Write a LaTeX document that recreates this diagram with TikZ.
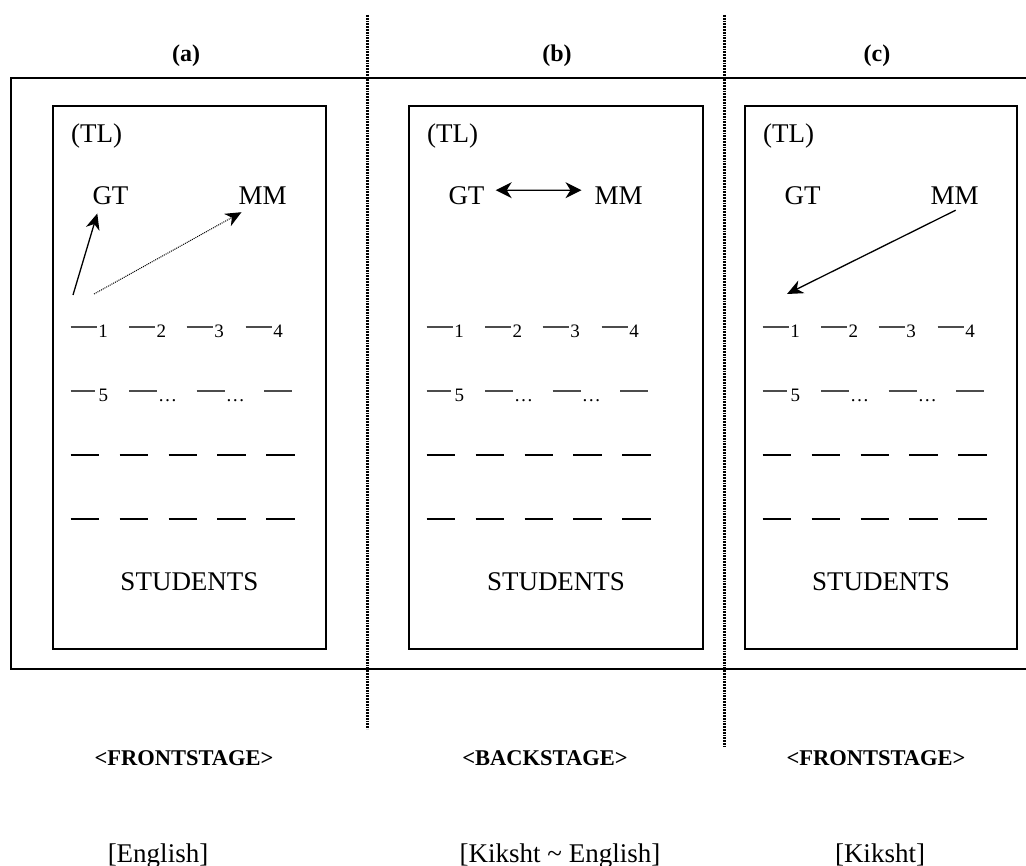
\documentclass[tikz,border=0pt]{standalone}
\usepackage{fontspec}
\setmainfont{Liberation Serif}
\usetikzlibrary{arrows.meta,calc}
\newcommand\panel[3]{% #1 name, #2 left, #3 right
  \draw[box] (#2,106) rectangle (#3,649);
  \begin{scope}[shift={(#2,0)}]
    \node[txt,anchor=base west] (#1-TL) at (18,143) {(TL)};
    \node[txt,anchor=base west] (#1-GT) at (39.3,205) {GT};
    \node[txt,anchor=base west] (#1-MM) at (185.5,205) {MM};
    \foreach \s/\d in {17.7/1,76/2,133.7/3,192.7/4}{
      \draw[seat] (\s,327) -- ++(26,0);
      \node[num] (#1-n\d) at (\s+27.5,337.5) {\d};}
    \draw[seat] (17.7,391) -- ++(24.3,0);
    \node[num] (#1-n5) at (45.5,402) {5};
    \foreach \s/\k in {76/x,143.7/y}{
      \draw[seat] (\s,391) -- ++(28.3,0);
      \node[num] (#1-d\k) at (\s+29,402) {…};}
    \draw[seat] (211,391) -- ++(28.3,0);
    \foreach \k in {0,...,4}{
      \draw[seatk] (17.7+48.9*\k,455) -- ++(28.7,0);
      \draw[seatk] (17.7+48.9*\k,519) -- ++(28.7,0);}
  \end{scope}
  \node[txt,anchor=base] (#1-ST) at ({(#2+#3)/2},590) {STUDENTS};
}
\begin{document}
\begin{tikzpicture}[x=1pt,y=-1pt,
  txt/.style={inner sep=0pt,font=\fontsize{27}{30}\selectfont},
  lab/.style={inner sep=0pt,font=\bfseries\fontsize{22.5}{26}\selectfont},
  num/.style={inner sep=0pt,anchor=base west,font=\fontsize{19}{21}\selectfont},
  seat/.style={line width=1.2pt,black!70},
  seatk/.style={line width=1.1pt,black},
  box/.style={draw,line width=1.8pt},
  sep/.style={line width=3pt,dash pattern=on 1.8pt off 1pt},
  arr/.style={line width=1.3pt,-{Stealth[length=16pt,width=14pt,inset=5pt]}},
  arrb/.style={line width=1.3pt,{Stealth[length=16pt,width=16pt,inset=5pt]}-{Stealth[length=16pt,width=16pt,inset=5pt]}},
]
\useasboundingbox (0,0) rectangle (1026,866);
% outer frame
\draw[line width=2.2pt] (1040,78) -- (11,78) -- (11,669) -- (1040,669);
% panels
\panel{a}{53}{326}
\panel{b}{409}{703}
\panel{c}{745}{1017}
% separators
\coordinate (s1t) at (367.5,15); \coordinate (s1b) at (367.5,729);
\coordinate (s2t) at (724,15); \coordinate (s2b) at (724,747);
\draw[sep] (s1t) -- (s1b);
\draw[sep] (s2t) -- (s2b);
% titles
\node[lab,anchor=base,font=\bfseries\fontsize{24}{28}\selectfont] (ta) at (186,62) {(a)};
\node[lab,anchor=base,font=\bfseries\fontsize{24}{28}\selectfont] (tb) at (557,62) {(b)};
\node[lab,anchor=base,font=\bfseries\fontsize{24}{28}\selectfont] (tc) at (877,62) {(c)};
% arrows
\coordinate (a-s1) at (73,295);
\coordinate (a-s2) at (94,294);
\draw[arr] (a-s1) -- ([shift={(5,8)}]a-GT.south west);
\draw[arr,line width=1pt,densely dotted] (a-s2) -- ([shift={(3,7)}]a-MM.south west);
\draw[arrb] ([shift={(11,-6)}]b-GT.east) -- ([shift={(-13,-6)}]b-MM.west);
\coordinate (c-e) at (787,294);
\draw[arr] ([shift={(1,5)}]c-MM.south) -- (c-e);
% stage labels
\node[lab,anchor=base] (fa) at (184,765) {<FRONTSTAGE>};
\node[lab,anchor=base] (fb) at (545,765) {<BACKSTAGE>};
\node[lab,anchor=base] (fc) at (876,765) {<FRONTSTAGE>};
\node[txt,anchor=base] (ea) at (158,862) {[English]};
\node[txt,anchor=base] (eb) at (560,862) {[Kiksht \textasciitilde{} English]};
\node[txt,anchor=base] (ec) at (880,862) {[Kiksht]};
\end{tikzpicture}
\end{document}
